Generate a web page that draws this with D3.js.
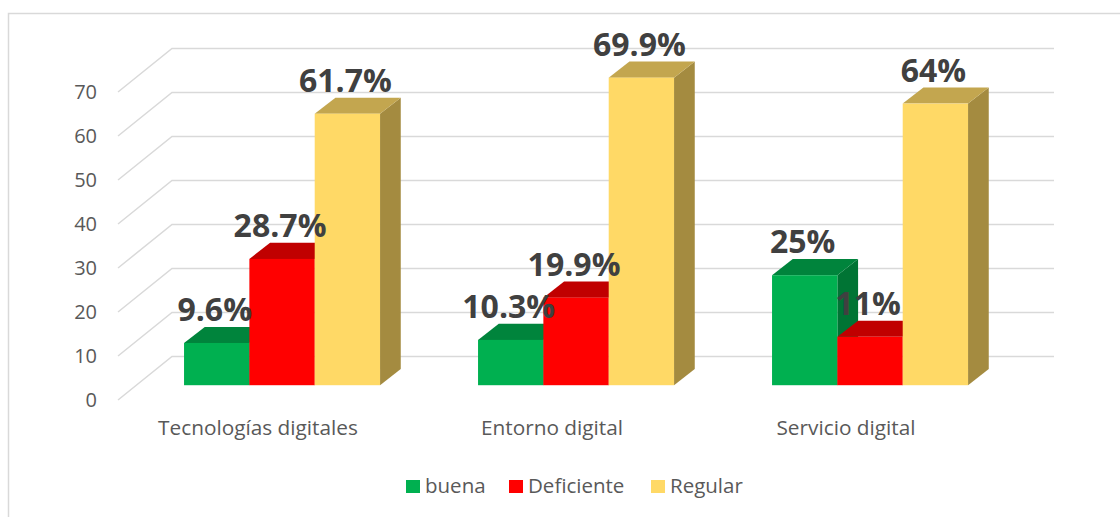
<!DOCTYPE html>
<html>
<head>
<meta charset="utf-8">
<script src="https://cdn.jsdelivr.net/npm/d3@7"></script>
<style>
  body { margin: 0; background: #fff; }
  svg { display: block; font-family: 'Open Sans', sans-serif; }
</style>
</head>
<body>
<svg id="chart" width="1120" height="517"></svg>
<script>
let categories = ['Tecnologías digitales', 'Entorno digital', 'Servicio digital']
let seriesNames = ['buena', 'Deficiente', 'Regular']
let buena = [9.6, 10.3, 25]
let deficiente = [28.7, 19.9, 11]
let regular = [61.7, 69.9, 64]
let yTicks = [0, 10, 20, 30, 40, 50, 60, 70]

let seriesValues = [buena, deficiente, regular]
// front, top, side shades for each series
let shades = [
    ['#00b050', '#00843c', '#007434'],
    ['#ff0000', '#c00000', '#a80000'],
    ['#ffd966', '#c3a64f', '#a48b40'],
]

let $svg = d3.select('#chart')

// chart frame
$svg.append('rect')
    .attr('x', 8.5).attr('y', 13.5)
    .attr('width', 1200).attr('height', 600)
    .attr('fill', 'none')
    .attr('stroke', '#d9d9d9')
    .attr('stroke-width', 1.5)

// oblique 3D: front plane + depth vector
let depth = {x: 56, y: -43.5},
    barFront = 0.34,
    barBack = 0.71

let x = d3.scaleBand()
    .domain(categories)
    .range([116, 998])

let sub = d3.scaleBand()
    .domain(seriesNames)
    .range([x.bandwidth() / 6, x.bandwidth() * 5 / 6])

let y = d3.scaleLinear()
    .domain([0, 70])
    .range([400, 92])

let grid = $svg.append('g')
    .attr('stroke', '#d9d9d9')
    .attr('stroke-width', 1.5)
    .attr('fill', 'none')

yTicks.forEach(t => {
    let x0 = x.range()[0], x1 = x.range()[1]
    grid.append('path')
        .attr('d', `M${x0 + 2},${y(t)}L${x0 + depth.x},${y(t) + depth.y}L${x1 + depth.x},${y(t) + depth.y}`)
})

// y axis labels
$svg.append('g')
    .selectAll('text')
    .data(yTicks)
    .join('text')
    .attr('x', 97)
    .attr('y', d => y(d))
    .attr('dy', '0.35em')
    .attr('text-anchor', 'end')
    .attr('font-size', 20)
    .attr('fill', '#595959')
    .text(d => d)

// bars
let bars = $svg.append('g')
let labels = []
categories.forEach((cat, ci) => {
    seriesNames.forEach((s, si) => {
        let v = seriesValues[si][ci]
        let fx = x(cat) + sub(s) + depth.x * barFront,
            w = sub.bandwidth(),
            fb = y(0) + depth.y * barFront,
            ft = y(v) + depth.y * barFront,
            dx = depth.x * (barBack - barFront),
            dy = depth.y * (barBack - barFront)
        let c = shades[si]
        bars.append('path')
            .attr('d', `M${fx + w},${fb}L${fx + w + dx},${fb + dy}L${fx + w + dx},${ft + dy}L${fx + w},${ft}Z`)
            .attr('fill', c[2])
        bars.append('path')
            .attr('d', `M${fx},${ft}L${fx + dx},${ft + dy}L${fx + w + dx},${ft + dy}L${fx + w},${ft}Z`)
            .attr('fill', c[1])
        bars.append('rect')
            .attr('x', fx).attr('y', ft)
            .attr('width', w).attr('height', fb - ft)
            .attr('fill', c[0])
        labels.push({x: fx + w / 2 - 2, y: ft - 22, text: v + '%'})
    })
})

$svg.append('g')
    .selectAll('text')
    .data(labels)
    .join('text')
    .attr('x', d => d.x)
    .attr('y', d => d.y)
    .attr('text-anchor', 'middle')
    .attr('font-size', 32)
    .attr('font-weight', 700)
    .attr('fill', '#404040')
    .text(d => d.text)

// category labels
$svg.append('g')
    .selectAll('text')
    .data(categories)
    .join('text')
    .attr('x', d => x(d) + x.bandwidth() / 2 - 5)
    .attr('y', 435)
    .attr('text-anchor', 'middle')
    .attr('font-size', 20.8)
    .attr('fill', '#595959')
    .text(d => d)

// legend
let legendX = [406, 509, 651]
let legend = $svg.append('g')
seriesNames.forEach((s, i) => {
    legend.append('rect')
        .attr('x', legendX[i]).attr('y', 480)
        .attr('width', 14).attr('height', 13)
        .attr('fill', shades[i][0])
    legend.append('text')
        .attr('x', legendX[i] + 19)
        .attr('y', 493)
        .attr('font-size', 20.5)
        .attr('fill', '#595959')
        .text(s)
})
</script>
</body>
</html>
